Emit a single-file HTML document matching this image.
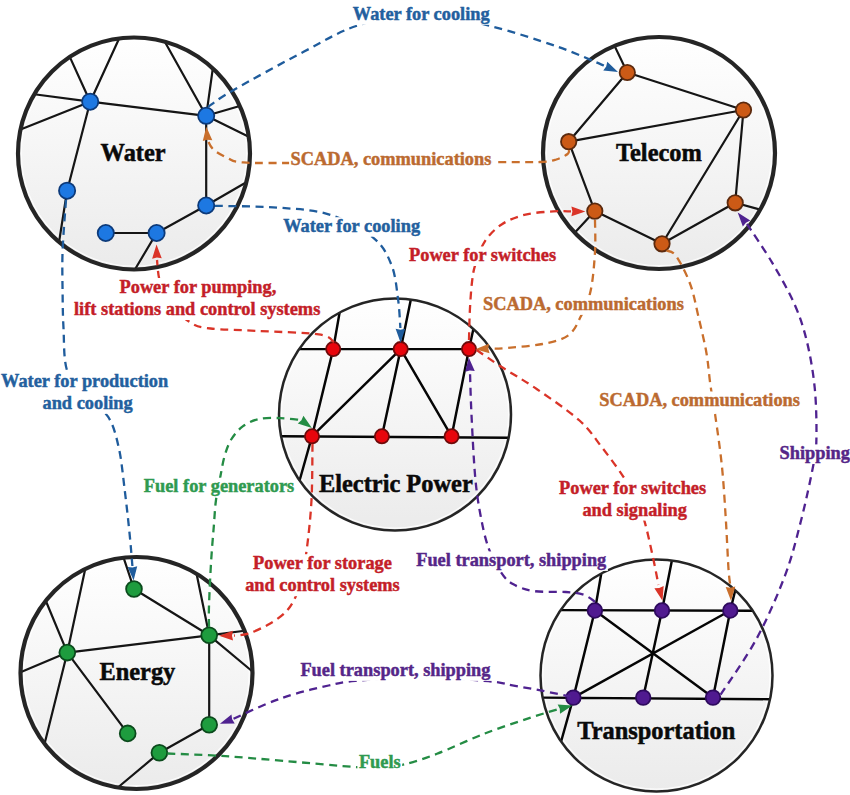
<!DOCTYPE html><html><head><meta charset="utf-8"><style>html,body{margin:0;padding:0;background:#fff;}svg{display:block;}</style></head><body>
<svg width="850" height="795" viewBox="0 0 850 795">
<defs><linearGradient id="g" x1="0" y1="0" x2="0" y2="1"><stop offset="0" stop-color="#ffffff"/><stop offset="1" stop-color="#ebebeb"/></linearGradient></defs>
<rect width="850" height="795" fill="#fff"/>
<circle cx="134" cy="153.5" r="116" fill="url(#g)"/>
<circle cx="134" cy="153.5" r="112.7" fill="none" stroke="#fff" stroke-width="1.2" opacity="0.8"/>
<path d="M90.2,101.7 L69.78,56.9 M90.2,101.7 L119.13,38.46 M90.2,101.7 L34.26,94.28 M90.2,101.7 L20.51,129.52 M90.2,101.7 L67.1,190.7 M90.2,101.7 L206.2,115.8 M206.2,115.8 L164.81,41.67 M206.2,115.8 L212.82,68.39 M206.2,115.8 L239.8,105.94 M206.2,115.8 L248.78,136.72 M206.2,115.8 L206.2,205.5 M67.1,190.7 L59.06,242.04 M206.2,205.5 L246.37,182.28 M206.2,205.5 L156.6,233 M156.6,233 L105.8,233 M156.6,233 L134.91,269.5" stroke="#151515" stroke-width="2.2" fill="none" stroke-linecap="butt"/>
<circle cx="134" cy="153.5" r="116" fill="none" stroke="#252525" stroke-width="4.2"/>
<circle cx="90.2" cy="101.7" r="8.1" fill="#1d78e2" stroke="#0c3a7a" stroke-width="1.8"/>
<circle cx="206.2" cy="115.8" r="8.1" fill="#1d78e2" stroke="#0c3a7a" stroke-width="1.8"/>
<circle cx="67.1" cy="190.7" r="8.1" fill="#1d78e2" stroke="#0c3a7a" stroke-width="1.8"/>
<circle cx="206.2" cy="205.5" r="8.1" fill="#1d78e2" stroke="#0c3a7a" stroke-width="1.8"/>
<circle cx="105.8" cy="233" r="8.1" fill="#1d78e2" stroke="#0c3a7a" stroke-width="1.8"/>
<circle cx="156.6" cy="233" r="8.1" fill="#1d78e2" stroke="#0c3a7a" stroke-width="1.8"/>
<circle cx="659" cy="153" r="116" fill="url(#g)"/>
<circle cx="659" cy="153" r="112.7" fill="none" stroke="#fff" stroke-width="1.2" opacity="0.8"/>
<path d="M627.3,72.5 L614.53,45.86 M627.3,72.5 L743.5,110 M627.3,72.5 L568.7,141.7 M568.7,141.7 L743.5,110 M568.7,141.7 L594.8,211.1 M594.8,211.1 L574.73,232.71 M594.8,211.1 L662,243.8 M743.5,110 L662,243.8 M743.5,110 L735.2,202.8 M735.2,202.8 L662,243.8 M735.2,202.8 L760.23,209.64" stroke="#151515" stroke-width="2.2" fill="none" stroke-linecap="butt"/>
<circle cx="659" cy="153" r="116" fill="none" stroke="#252525" stroke-width="4.2"/>
<circle cx="627.3" cy="72.5" r="7.7" fill="#cc5a16" stroke="#5c2a0e" stroke-width="1.8"/>
<circle cx="743.5" cy="110" r="7.7" fill="#cc5a16" stroke="#5c2a0e" stroke-width="1.8"/>
<circle cx="568.7" cy="141.7" r="7.7" fill="#cc5a16" stroke="#5c2a0e" stroke-width="1.8"/>
<circle cx="594.8" cy="211.1" r="7.7" fill="#cc5a16" stroke="#5c2a0e" stroke-width="1.8"/>
<circle cx="662" cy="243.8" r="7.7" fill="#cc5a16" stroke="#5c2a0e" stroke-width="1.8"/>
<circle cx="735.2" cy="202.8" r="7.7" fill="#cc5a16" stroke="#5c2a0e" stroke-width="1.8"/>
<circle cx="395" cy="414.5" r="116" fill="url(#g)"/>
<circle cx="395" cy="414.5" r="113.55" fill="none" stroke="#fff" stroke-width="1.2" opacity="0.8"/>
<path d="M299.19,349.1 L469,349.1 M333.2,349.1 L339.6,312.58 M400.7,349.1 L410.84,299.59 M469,349.1 L473.39,329 M333.2,349.1 L312,436.3 M400.7,349.1 L312,436.3 M400.7,349.1 L381.9,436.3 M400.7,349.1 L451.6,436.3 M469,349.1 L451.6,436.3 M281.07,436.3 L508.64,437.8 M312,436.3 L299.58,480.46" stroke="#050505" stroke-width="2.45" fill="none" stroke-linecap="butt"/>
<circle cx="395" cy="414.5" r="116" fill="none" stroke="#252525" stroke-width="2.5"/>
<circle cx="333.2" cy="349.1" r="7.1" fill="#e8050c" stroke="#6e0a0a" stroke-width="1.8"/>
<circle cx="400.7" cy="349.1" r="7.1" fill="#e8050c" stroke="#6e0a0a" stroke-width="1.8"/>
<circle cx="469" cy="349.1" r="7.1" fill="#e8050c" stroke="#6e0a0a" stroke-width="1.8"/>
<circle cx="312" cy="436.3" r="7.1" fill="#e8050c" stroke="#6e0a0a" stroke-width="1.8"/>
<circle cx="381.9" cy="436.3" r="7.1" fill="#e8050c" stroke="#6e0a0a" stroke-width="1.8"/>
<circle cx="451.6" cy="436.3" r="7.1" fill="#e8050c" stroke="#6e0a0a" stroke-width="1.8"/>
<circle cx="136.5" cy="673" r="116" fill="url(#g)"/>
<circle cx="136.5" cy="673" r="112.7" fill="none" stroke="#fff" stroke-width="1.2" opacity="0.8"/>
<path d="M67.3,652.6 L85.22,568.95 M67.3,652.6 L45.78,600.71 M67.3,652.6 L20.5,672.2 M67.3,652.6 L209.2,635.3 M67.3,652.6 L44.57,743.74 M67.3,652.6 L127.7,733.4 M134,589 L123.57,557.72 M134,589 L209.2,635.3 M209.2,635.3 L196.56,573.76 M209.2,635.3 L244.52,630.72 M209.2,635.3 L252.49,671.5 M209.2,635.3 L209.2,724.8 M209.2,724.8 L159.4,752.7 M159.4,752.7 L117.83,787.49" stroke="#151515" stroke-width="2.2" fill="none" stroke-linecap="butt"/>
<circle cx="136.5" cy="673" r="116" fill="none" stroke="#252525" stroke-width="4.2"/>
<circle cx="67.3" cy="652.6" r="7.9" fill="#1e9c3e" stroke="#0b4a1c" stroke-width="1.8"/>
<circle cx="134" cy="589" r="7.9" fill="#1e9c3e" stroke="#0b4a1c" stroke-width="1.8"/>
<circle cx="209.2" cy="635.3" r="7.9" fill="#1e9c3e" stroke="#0b4a1c" stroke-width="1.8"/>
<circle cx="127.7" cy="733.4" r="7.9" fill="#1e9c3e" stroke="#0b4a1c" stroke-width="1.8"/>
<circle cx="209.2" cy="724.8" r="7.9" fill="#1e9c3e" stroke="#0b4a1c" stroke-width="1.8"/>
<circle cx="159.4" cy="752.7" r="7.9" fill="#1e9c3e" stroke="#0b4a1c" stroke-width="1.8"/>
<circle cx="656.5" cy="675.5" r="116" fill="url(#g)"/>
<circle cx="656.5" cy="675.5" r="113.55" fill="none" stroke="#fff" stroke-width="1.2" opacity="0.8"/>
<path d="M560.69,610.1 L752.78,610.8 M594.9,610.5 L601.27,573.49 M662,610.5 L671.89,560.53 M730.3,610.5 L735.24,590.32 M594.9,610.5 L573.4,697.6 M594.9,610.5 L713,697.6 M730.3,610.5 L573.4,697.6 M662,610.5 L643.2,697.6 M730.3,610.5 L713,697.6 M542.63,697.6 L770.05,699.2 M573.4,697.6 L561.1,741.49" stroke="#050505" stroke-width="2.45" fill="none" stroke-linecap="butt"/>
<circle cx="656.5" cy="675.5" r="116" fill="none" stroke="#252525" stroke-width="2.5"/>
<circle cx="594.9" cy="610.5" r="7.3" fill="#501a90" stroke="#2e0a5e" stroke-width="1.8"/>
<circle cx="662" cy="610.5" r="7.3" fill="#501a90" stroke="#2e0a5e" stroke-width="1.8"/>
<circle cx="730.3" cy="610.5" r="7.3" fill="#501a90" stroke="#2e0a5e" stroke-width="1.8"/>
<circle cx="573.4" cy="697.6" r="7.3" fill="#501a90" stroke="#2e0a5e" stroke-width="1.8"/>
<circle cx="643.2" cy="697.6" r="7.3" fill="#501a90" stroke="#2e0a5e" stroke-width="1.8"/>
<circle cx="713" cy="697.6" r="7.3" fill="#501a90" stroke="#2e0a5e" stroke-width="1.8"/>
<path d="M208,107 C212.07,104.28 216.47,99.9 232.4,90.7 C248.33,81.5 282.67,62.68 303.6,51.8 C324.53,40.92 337.93,31.87 358,25.4 C378.07,18.93 402,12.92 424,13 C446,13.08 467.78,20.3 490,25.9 C512.22,31.5 538.22,39.95 557.3,46.6 C576.38,53.25 596.63,62.6 604.5,65.8" fill="none" stroke="#1f5c9c" stroke-width="2.3" stroke-dasharray="8 5.5"/>
<path d="M618,72 L603.27,70.52 L606.19,66.57 L607.28,61.8 Z" fill="#1f5c9c"/>
<path d="M569,150 C568.77,150.67 569.72,152.42 567.6,154 C565.48,155.58 560.9,158.17 556.3,159.5 C551.7,160.83 550.05,161.55 540,162 C529.95,162.45 537.5,162.03 496,162.2 C454.5,162.37 333.4,162.98 291,163 C248.6,163.02 252.18,163.13 241.6,162.3 C231.02,161.47 232.2,160.13 227.5,158 C222.8,155.87 216.73,152.5 213.4,149.5 C210.07,146.5 208.48,141.58 207.5,140" fill="none" stroke="#c96f2c" stroke-width="2.3" stroke-dasharray="8 5.5"/>
<path d="M206.3,126.7 L212.34,140.21 L207.47,139.65 L202.78,141.07 Z" fill="#c96f2c"/>
<path d="M215,205.8 C225.43,206.1 258.53,206.13 277.6,207.6 C296.67,209.07 313.43,209.55 329.4,214.6 C345.37,219.65 363.05,229.5 373.4,237.9 C383.75,246.3 387.4,254.87 391.5,265 C395.6,275.13 396.52,288.2 398,298.7 C399.48,309.2 400,323.12 400.4,328" fill="none" stroke="#1f5c9c" stroke-width="2.3" stroke-dasharray="8 5.5"/>
<path d="M400.6,342.7 L395.61,328.77 L400.42,329.7 L405.21,328.64 Z" fill="#1f5c9c"/>
<path d="M469,340 C469.15,334.95 469.4,319.37 469.9,309.7 C470.4,300.03 471.1,289.48 472,282 C472.9,274.52 473.15,271.58 475.3,264.8 C477.45,258.02 480.45,248.07 484.9,241.3 C489.35,234.53 495.23,228.65 502,224.2 C508.77,219.75 516.95,216.73 525.5,214.6 C534.05,212.47 545.72,211.93 553.3,211.4 C560.88,210.87 568.05,211.4 571,211.4" fill="none" stroke="#da3428" stroke-width="2.3" stroke-dasharray="8 5.5"/>
<path d="M585.4,211.4 L571.4,216.2 L572.4,211.4 L571.4,206.6 Z" fill="#da3428"/>
<path d="M334,342 C331.47,340.73 331.53,336.25 318.8,334.4 C306.07,332.55 275.63,331.88 257.6,330.9 C239.57,329.92 221.77,329.88 210.6,328.5 C199.43,327.12 197.7,327.02 190.6,322.6 C183.5,318.18 173.18,309.1 168,302 C162.82,294.9 161.33,287 159.5,280 C157.67,273 157.42,263.33 157,260" fill="none" stroke="#da3428" stroke-width="2.3" stroke-dasharray="8 5.5"/>
<path d="M156.5,244.5 L161.75,258.34 L156.92,257.49 L152.15,258.65 Z" fill="#da3428"/>
<path d="M595,220 C595,225.33 595.72,240.25 595,252 C594.28,263.75 593.03,279.83 590.7,290.5 C588.37,301.17 584.73,308.52 581,316 C577.27,323.48 574.7,330.73 568.3,335.4 C561.9,340.07 553.32,341.87 542.6,344 C531.88,346.13 512.77,347.45 504,348.2 C495.23,348.95 492.33,348.45 490,348.5" fill="none" stroke="#c96f2c" stroke-width="2.3" stroke-dasharray="8 5.5"/>
<path d="M475.3,349.3 L489.02,343.75 L488.28,348.59 L489.54,353.33 Z" fill="#c96f2c"/>
<path d="M66,200 C65.43,208.43 63.17,235.13 62.6,250.6 C62.03,266.07 62.45,279.9 62.6,292.8 C62.75,305.7 62.77,315.08 63.5,328 C64.23,340.92 63.42,358.8 67,370.3 C70.58,381.8 78.17,389.27 85,397 C91.83,404.73 102.37,408.23 108,416.7 C113.63,425.17 116,435.45 118.8,447.8 C121.6,460.15 123,476.47 124.8,490.8 C126.6,505.13 128.33,521.27 129.6,533.8 C130.87,546.33 131.93,560.63 132.4,566" fill="none" stroke="#1f5c9c" stroke-width="2.3" stroke-dasharray="8 5.5"/>
<path d="M133.6,580.5 L127.66,566.94 L132.53,567.54 L137.23,566.15 Z" fill="#1f5c9c"/>
<path d="M666.5,250.5 C668.12,251.43 672.23,250.47 676.2,256.1 C680.17,261.73 686.6,274.23 690.3,284.3 C694,294.37 695.72,305.1 698.4,316.5 C701.08,327.9 704.4,341.3 706.4,352.7 C708.4,364.1 708.92,374.38 710.4,384.9 C711.88,395.42 713.38,402.28 715.3,415.8 C717.22,429.32 720.15,448.82 721.9,466 C723.65,483.18 724.7,501.73 725.8,518.9 C726.9,536.07 727.72,557.65 728.5,569 C729.28,580.35 730.17,584 730.5,587" fill="none" stroke="#c96f2c" stroke-width="2.3" stroke-dasharray="8 5.5"/>
<path d="M731,600.7 L725.69,586.88 L730.53,587.71 L735.29,586.53 Z" fill="#c96f2c"/>
<path d="M720.6,694.6 C726.6,685.28 745.88,658.5 756.6,638.7 C767.32,618.9 777.57,595.2 784.9,575.8 C792.23,556.4 795.88,540.65 800.6,522.3 C805.32,503.95 810.57,479.58 813.2,465.7 C815.83,451.82 816.13,451.83 816.4,439 C816.67,426.17 816.38,404.95 814.8,388.7 C813.22,372.45 810.32,355.65 806.9,341.5 C803.48,327.35 800.07,316.9 794.3,303.8 C788.53,290.7 780.18,276.2 772.3,262.9 C764.42,249.6 751.22,230.48 747,224" fill="none" stroke="#4f2290" stroke-width="2.3" stroke-dasharray="8 5.5"/>
<path d="M737.7,212.6 L750.27,220.41 L745.92,222.67 L742.83,226.48 Z" fill="#4f2290"/>
<path d="M209,627 C209,623.43 208.65,616.5 209,605.6 C209.35,594.7 210.3,574.8 211.1,561.6 C211.9,548.4 212.98,536.67 213.8,526.4 C214.62,516.13 214.88,508.43 216,500 C217.12,491.57 219.07,483.13 220.5,475.8 C221.93,468.47 222.82,462.05 224.6,456 C226.38,449.95 228.18,444.43 231.2,439.5 C234.22,434.57 238.03,429.82 242.7,426.4 C247.37,422.98 252.88,420.38 259.2,419 C265.52,417.62 273.63,417.93 280.6,418.1 C287.57,418.27 297.6,419.68 301,420" fill="none" stroke="#248c44" stroke-width="2.3" stroke-dasharray="8 5.5"/>
<path d="M311.9,428 L297.77,423.59 L301.42,420.31 L303.45,415.85 Z" fill="#248c44"/>
<path d="M476.7,350 C480.8,352.8 491.25,360.27 501.3,366.8 C511.35,373.33 523.97,380.25 537,389.2 C550.03,398.15 568.68,410.82 579.5,420.5 C590.32,430.18 594.63,438 601.9,447.3 C609.17,456.6 617.25,467.52 623.1,476.3 C628.95,485.08 633.3,492.03 637,500 C640.7,507.97 642.6,514.35 645.3,524.1 C648,533.85 651,548.35 653.2,558.5 C655.4,568.65 657.62,580.58 658.5,585" fill="none" stroke="#da3428" stroke-width="2.3" stroke-dasharray="8 5.5"/>
<path d="M662.5,600.7 L654.39,588.32 L659.29,588.1 L663.69,585.95 Z" fill="#da3428"/>
<path d="M595,601.7 C593.08,600.53 588.37,596.32 583.5,594.7 C578.63,593.08 574.05,592.6 565.8,592 C557.55,591.4 542.82,592.42 534,591.1 C525.18,589.78 518.47,587.33 512.9,584.1 C507.33,580.87 504.72,577.88 500.6,571.7 C496.48,565.52 491.6,556.7 488.2,547 C484.8,537.3 482.38,525.37 480.2,513.5 C478.02,501.63 476.57,492.57 475.1,475.8 C473.63,459.03 472.25,430.2 471.4,412.9 C470.55,395.6 470.23,378.82 470,372" fill="none" stroke="#4f2290" stroke-width="2.3" stroke-dasharray="8 5.5"/>
<path d="M468.8,357.5 L474.74,371.06 L469.87,370.46 L465.17,371.85 Z" fill="#4f2290"/>
<path d="M312.5,444 C312.33,453.33 312.42,482.75 311.5,500 C310.58,517.25 308.58,535 307,547.5 C305.42,560 303.9,566.78 302,575 C300.1,583.22 298.43,590.52 295.6,596.8 C292.77,603.08 289.68,608 285,612.7 C280.32,617.4 273.65,621.52 267.5,625 C261.35,628.48 253.68,631.83 248.1,633.6 C242.52,635.37 236.35,635.27 234,635.6" fill="none" stroke="#da3428" stroke-width="2.3" stroke-dasharray="8 5.5"/>
<path d="M219,635.8 L232.93,630.81 L232,635.63 L233.06,640.41 Z" fill="#da3428"/>
<path d="M571,696.7 C565.93,695.65 550.37,692.28 540.6,690.4 C530.83,688.52 521.1,686.93 512.4,685.4 C503.7,683.87 503.8,682.6 488.4,681.2 C473,679.8 442.17,677.05 420,677 C397.83,676.95 370.63,679.48 355.4,680.9 C340.17,682.32 338.72,683.32 328.6,685.5 C318.48,687.68 305.05,690.93 294.7,694 C284.35,697.07 276.78,699.73 266.5,703.9 C256.22,708.07 238.58,716.48 233,719" fill="none" stroke="#4f2290" stroke-width="2.3" stroke-dasharray="8 5.5"/>
<path d="M219.9,723.7 L231.46,714.45 L232.14,719.31 L234.7,723.49 Z" fill="#4f2290"/>
<path d="M167.4,753.5 C176.45,753.9 202.35,754.67 221.7,755.9 C241.05,757.13 261.28,759.05 283.5,760.9 C305.72,762.75 338.92,765.9 355,767 C371.08,768.1 371.82,767.93 380,767.5 C388.18,767.07 394.6,766.68 404.1,764.4 C413.6,762.12 423.67,758.9 437,753.8 C450.33,748.7 468.4,739.87 484.1,733.8 C499.8,727.73 518.72,721.53 531.2,717.4 C543.68,713.27 554.37,710.4 559,709" fill="none" stroke="#248c44" stroke-width="2.3" stroke-dasharray="8 5.5"/>
<path d="M572.4,705.6 L560.01,713.7 L559.8,708.8 L557.65,704.39 Z" fill="#248c44"/>
<rect x="351.3" y="5.3" width="139.93" height="19.5" fill="#fff"/>
<rect x="289.1" y="150.3" width="203.84" height="19.5" fill="#fff"/>
<rect x="281.7" y="217.2" width="139.93" height="19.5" fill="#fff"/>
<rect x="407.5" y="246.5" width="150.11" height="19.5" fill="#fff"/>
<rect x="118" y="278" width="159.84" height="19.5" fill="#fff"/>
<rect x="119.5" y="292.5" width="156.84" height="22.5" fill="#fff"/>
<rect x="72.5" y="300.5" width="249.38" height="19.5" fill="#fff"/>
<rect x="481.5" y="295.4" width="203.84" height="19.5" fill="#fff"/>
<rect x="-0.4" y="372.3" width="170.2" height="19.5" fill="#fff"/>
<rect x="42.5" y="386.8" width="90.25" height="22" fill="#fff"/>
<rect x="41" y="394.3" width="93.25" height="19.5" fill="#fff"/>
<rect x="597.7" y="391.5" width="203.84" height="19.5" fill="#fff"/>
<rect x="778.1" y="444.4" width="73.4" height="19.5" fill="#fff"/>
<rect x="142.3" y="477.7" width="153.5" height="19.5" fill="#fff"/>
<rect x="557.6" y="479.2" width="150.11" height="19.5" fill="#fff"/>
<rect x="582.4" y="493.7" width="104.55" height="21.9" fill="#fff"/>
<rect x="580.9" y="501.1" width="107.55" height="19.5" fill="#fff"/>
<rect x="414.7" y="551.4" width="193.17" height="19.5" fill="#fff"/>
<rect x="251.5" y="554.2" width="141.94" height="19.5" fill="#fff"/>
<rect x="253" y="568.7" width="138.94" height="22.5" fill="#fff"/>
<rect x="243.7" y="576.7" width="157.63" height="19.5" fill="#fff"/>
<rect x="298.9" y="661.4" width="193.17" height="19.5" fill="#fff"/>
<rect x="357.4" y="753.6" width="44.8" height="19.5" fill="#fff"/>
<text x="352.8" y="19.8" font-family="'Liberation Serif', serif" font-weight="bold" font-size="18.35" fill="#23609e" stroke="#23609e" stroke-width="0.45">Water for cooling</text>
<text x="290.6" y="164.8" font-family="'Liberation Serif', serif" font-weight="bold" font-size="18.35" fill="#bb6a30" stroke="#bb6a30" stroke-width="0.45">SCADA, communications</text>
<text x="283.2" y="231.7" font-family="'Liberation Serif', serif" font-weight="bold" font-size="18.35" fill="#23609e" stroke="#23609e" stroke-width="0.45">Water for cooling</text>
<text x="409" y="261" font-family="'Liberation Serif', serif" font-weight="bold" font-size="18.35" fill="#c41e28" stroke="#c41e28" stroke-width="0.45">Power for switches</text>
<text x="119.5" y="292.5" font-family="'Liberation Serif', serif" font-weight="bold" font-size="18.35" fill="#c41e28" stroke="#c41e28" stroke-width="0.45">Power for pumping,</text>
<text x="74" y="315" font-family="'Liberation Serif', serif" font-weight="bold" font-size="18.35" fill="#c41e28" stroke="#c41e28" stroke-width="0.45">lift stations and control systems</text>
<text x="483" y="309.9" font-family="'Liberation Serif', serif" font-weight="bold" font-size="18.35" fill="#bb6a30" stroke="#bb6a30" stroke-width="0.45">SCADA, communications</text>
<text x="1.1" y="386.8" font-family="'Liberation Serif', serif" font-weight="bold" font-size="18.35" fill="#23609e" stroke="#23609e" stroke-width="0.45">Water for production</text>
<text x="42.5" y="408.8" font-family="'Liberation Serif', serif" font-weight="bold" font-size="18.35" fill="#23609e" stroke="#23609e" stroke-width="0.45">and cooling</text>
<text x="599.2" y="406" font-family="'Liberation Serif', serif" font-weight="bold" font-size="18.35" fill="#bb6a30" stroke="#bb6a30" stroke-width="0.45">SCADA, communications</text>
<text x="779.6" y="458.9" font-family="'Liberation Serif', serif" font-weight="bold" font-size="18.35" fill="#552688" stroke="#552688" stroke-width="0.45">Shipping</text>
<text x="143.8" y="492.2" font-family="'Liberation Serif', serif" font-weight="bold" font-size="18.35" fill="#2f9a50" stroke="#2f9a50" stroke-width="0.45">Fuel for generators</text>
<text x="559.1" y="493.7" font-family="'Liberation Serif', serif" font-weight="bold" font-size="18.35" fill="#c41e28" stroke="#c41e28" stroke-width="0.45">Power for switches</text>
<text x="582.4" y="515.6" font-family="'Liberation Serif', serif" font-weight="bold" font-size="18.35" fill="#c41e28" stroke="#c41e28" stroke-width="0.45">and signaling</text>
<text x="416.2" y="565.9" font-family="'Liberation Serif', serif" font-weight="bold" font-size="18.35" fill="#552688" stroke="#552688" stroke-width="0.45">Fuel transport, shipping</text>
<text x="253" y="568.7" font-family="'Liberation Serif', serif" font-weight="bold" font-size="18.35" fill="#c41e28" stroke="#c41e28" stroke-width="0.45">Power for storage</text>
<text x="245.2" y="591.2" font-family="'Liberation Serif', serif" font-weight="bold" font-size="18.35" fill="#c41e28" stroke="#c41e28" stroke-width="0.45">and control systems</text>
<text x="300.4" y="675.9" font-family="'Liberation Serif', serif" font-weight="bold" font-size="18.35" fill="#552688" stroke="#552688" stroke-width="0.45">Fuel transport, shipping</text>
<text x="358.9" y="768.1" font-family="'Liberation Serif', serif" font-weight="bold" font-size="18.35" fill="#2f9a50" stroke="#2f9a50" stroke-width="0.45">Fuels</text>
<text x="100.6" y="161" font-family="'Liberation Serif', serif" font-weight="bold" font-size="24.4" fill="#0a0a0a" stroke="#0a0a0a" stroke-width="0.5">Water</text>
<text x="616" y="160.9" font-family="'Liberation Serif', serif" font-weight="bold" font-size="24.4" fill="#0a0a0a" stroke="#0a0a0a" stroke-width="0.5">Telecom</text>
<text x="319" y="492.4" font-family="'Liberation Serif', serif" font-weight="bold" font-size="24.4" fill="#0a0a0a" stroke="#0a0a0a" stroke-width="0.5">Electric Power</text>
<text x="99.4" y="680.4" font-family="'Liberation Serif', serif" font-weight="bold" font-size="24.4" fill="#0a0a0a" stroke="#0a0a0a" stroke-width="0.5">Energy</text>
<text x="577.2" y="738.8" font-family="'Liberation Serif', serif" font-weight="bold" font-size="24.4" fill="#0a0a0a" stroke="#0a0a0a" stroke-width="0.5">Transportation</text>
</svg></body></html>
